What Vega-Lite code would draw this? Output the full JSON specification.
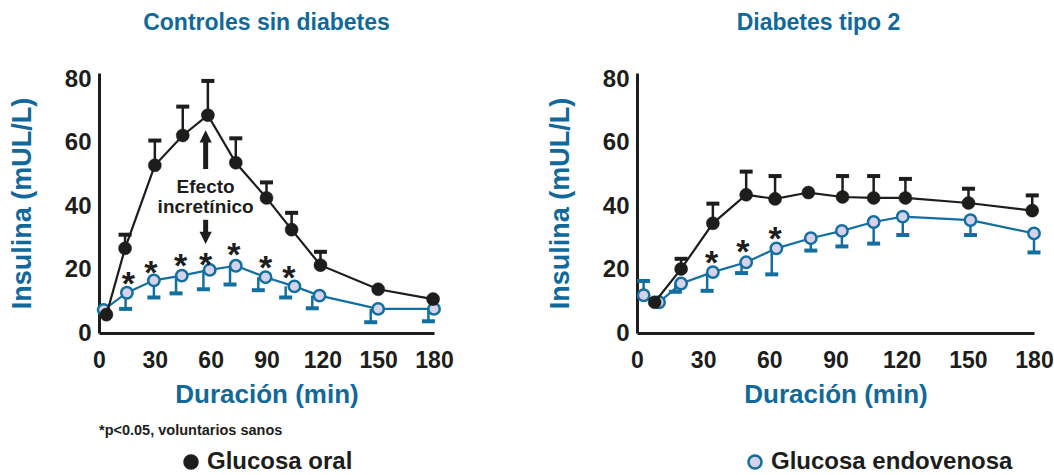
{
  "$schema": "https://vega.github.io/schema/vega-lite/v6.json",
  "background": "white",
  "padding": {"left": 8, "top": 11, "right": 5, "bottom": 5},
  "datasets": {
    "ctrl": [
      {"t": 4, "v": 5.8, "e": null, "te": null, "serie": "Glucosa oral"},
      {"t": 14, "v": 26.7, "e": 31, "te": 14, "serie": "Glucosa oral"},
      {"t": 30, "v": 52.9, "e": 60.7, "te": 30, "serie": "Glucosa oral"},
      {"t": 45, "v": 62.3, "e": 71.4, "te": 45, "serie": "Glucosa oral"},
      {"t": 58.5, "v": 68.7, "e": 79.5, "te": 58.5, "serie": "Glucosa oral"},
      {"t": 73.5, "v": 53.7, "e": 61.4, "te": 73.5, "serie": "Glucosa oral"},
      {"t": 90, "v": 42.6, "e": 47.5, "te": 90, "serie": "Glucosa oral"},
      {"t": 103.5, "v": 32.6, "e": 37.9, "te": 103.5, "serie": "Glucosa oral"},
      {"t": 119, "v": 21.4, "e": 25.6, "te": 119, "serie": "Glucosa oral"},
      {"t": 150, "v": 13.8, "e": null, "te": null, "serie": "Glucosa oral"},
      {"t": 179.5, "v": 10.7, "e": null, "te": null, "serie": "Glucosa oral"},
      {"t": 2.5, "v": 7.3, "e": null, "te": null, "serie": "Glucosa endovenosa"},
      {"t": 15, "v": 12.7, "e": 7.6, "te": 14.3, "serie": "Glucosa endovenosa"},
      {"t": 29.5, "v": 16.6, "e": 11.2, "te": 29.5, "serie": "Glucosa endovenosa"},
      {"t": 44.5, "v": 18.1, "e": 12.5, "te": 41.4, "serie": "Glucosa endovenosa"},
      {"t": 59.5, "v": 19.9, "e": 13.8, "te": 56.1, "serie": "Glucosa endovenosa"},
      {"t": 73.5, "v": 21.2, "e": 15.3, "te": 70.4, "serie": "Glucosa endovenosa"},
      {"t": 89.5, "v": 17.6, "e": 13.5, "te": 85.6, "serie": "Glucosa endovenosa"},
      {"t": 105, "v": 14.7, "e": 11.2, "te": 100.3, "serie": "Glucosa endovenosa"},
      {"t": 118.5, "v": 11.8, "e": 7.8, "te": 114.6, "serie": "Glucosa endovenosa"},
      {"t": 150, "v": 7.6, "e": 3.4, "te": 146, "serie": "Glucosa endovenosa"},
      {"t": 180, "v": 7.6, "e": 3.7, "te": 177, "serie": "Glucosa endovenosa"}
    ],
    "dm2": [
      {"t": 8, "v": 9.7, "e": null, "te": null, "serie": "Glucosa oral"},
      {"t": 20, "v": 20.2, "e": 23.4, "te": 20, "serie": "Glucosa oral"},
      {"t": 34.4, "v": 34.6, "e": 40.8, "te": 34.4, "serie": "Glucosa oral"},
      {"t": 49.5, "v": 43.6, "e": 50.9, "te": 49.5, "serie": "Glucosa oral"},
      {"t": 62.6, "v": 42.3, "e": 49.5, "te": 62.6, "serie": "Glucosa oral"},
      {"t": 77.7, "v": 44.3, "e": null, "te": null, "serie": "Glucosa oral"},
      {"t": 93.2, "v": 42.9, "e": 49.5, "te": 93.2, "serie": "Glucosa oral"},
      {"t": 107.3, "v": 42.6, "e": 49.5, "te": 107.3, "serie": "Glucosa oral"},
      {"t": 121.7, "v": 42.6, "e": 48.6, "te": 121.7, "serie": "Glucosa oral"},
      {"t": 150.3, "v": 41.0, "e": 45.5, "te": 150.3, "serie": "Glucosa oral"},
      {"t": 179.2, "v": 38.6, "e": 43.4, "te": 179.2, "serie": "Glucosa oral"},
      {"t": 3, "v": 11.9, "e": 16.4, "te": 3, "serie": "Glucosa endovenosa"},
      {"t": 10, "v": 9.7, "e": null, "te": null, "serie": "Glucosa endovenosa"},
      {"t": 20, "v": 15.6, "e": 13, "te": 17.4, "serie": "Glucosa endovenosa"},
      {"t": 34.4, "v": 19.2, "e": 13.3, "te": 31.8, "serie": "Glucosa endovenosa"},
      {"t": 49.5, "v": 22.3, "e": 18.9, "te": 47.4, "serie": "Glucosa endovenosa"},
      {"t": 63.2, "v": 26.7, "e": 18.5, "te": 61.1, "serie": "Glucosa endovenosa"},
      {"t": 78.8, "v": 29.9, "e": 26, "te": 78.8, "serie": "Glucosa endovenosa"},
      {"t": 92.9, "v": 32.2, "e": 27.3, "te": 92.9, "serie": "Glucosa endovenosa"},
      {"t": 107.3, "v": 35.0, "e": 28.2, "te": 107.3, "serie": "Glucosa endovenosa"},
      {"t": 120.5, "v": 36.7, "e": 30.9, "te": 120.5, "serie": "Glucosa endovenosa"},
      {"t": 151.2, "v": 35.6, "e": 30.9, "te": 151.2, "serie": "Glucosa endovenosa"},
      {"t": 180, "v": 31.4, "e": 25.4, "te": 180, "serie": "Glucosa endovenosa"}
    ],
    "starsCtrl": [
      {"t": 15.8, "v": 17.6}, {"t": 27.8, "v": 21.2}, {"t": 43.9, "v": 23.3},
      {"t": 57.3, "v": 23.8}, {"t": 72.5, "v": 26.9}, {"t": 89.5, "v": 22.8}, {"t": 102, "v": 19.7}
    ],
    "starsDm2": [
      {"t": 33.8, "v": 24.4}, {"t": 48, "v": 27.7}, {"t": 62.6, "v": 31.7}
    ],
    "annot": [
      {"t": 57.3, "v": 45.9, "label": "Efecto"},
      {"t": 57.3, "v": 39.6, "label": "incretínico"}
    ],
    "shafts": [
      {"t": 57.3, "v": 51.7, "v2": 61},
      {"t": 57.3, "v": 35.7, "v2": 31}
    ],
    "headsUp": [{"t": 57.3, "v": 62}],
    "headsDown": [{"t": 57.3, "v": 30}],
    "note": [{"t": 0, "v": -31, "label": "*p<0.05, voluntarios sanos"}]
  },
  "config": {
    "font": "Liberation Sans",
    "view": {"stroke": null},
    "concat": {"spacing": 92},
    "axis": {
      "grid": false, "ticks": false, "domainColor": "#1d1d1b", "domainWidth": 3,
      "labelFont": "Liberation Sans", "labelFontWeight": "bold", "labelColor": "#1d1d1b",
      "titleFont": "Liberation Sans", "titleFontWeight": "bold", "titleColor": "#10699a"
    },
    "axisX": {"labelFontSize": 23, "labelPadding": 16, "titleFontSize": 26, "titlePadding": 9, "labelFlush": false, "labelOverlap": false},
    "axisY": {"labelFontSize": 24, "labelPadding": 8, "titleFontSize": 27, "titlePadding": 28, "labelOverlap": false},
    "title": {"font": "Liberation Sans", "fontWeight": "bold", "fontSize": 23, "color": "#10699a", "anchor": "middle", "frame": "group", "offset": 32.5},
    "legend": {
      "orient": "none", "legendX": 80, "legendY": 377, "direction": "horizontal",
      "columnPadding": 390, "labelFont": "Liberation Sans", "labelFontWeight": "bold",
      "labelFontSize": 24, "labelColor": "#1d1d1b", "labelLimit": 400, "symbolSize": 170, "symbolStrokeWidth": 2.5,
      "symbolType": "circle", "labelOffset": 4, "title": null
    }
  },
  "hconcat": [
    {
      "width": 335, "height": 260,
      "title": {"text": "Controles sin diabetes"},
      "layer": [
        {
          "data": {"name": "ctrl"},
          "transform": [{"filter": "datum.serie === 'Glucosa endovenosa'"}],
          "mark": {"type": "line", "color": "#136fa0", "strokeWidth": 2.2},
          "encoding": {
            "x": {"field": "t", "type": "quantitative", "scale": {"domain": [0, 180], "nice": false}, "axis": {"values": [0, 30, 60, 90, 120, 150, 180]}, "title": "Duración (min)"},
            "y": {"field": "v", "type": "quantitative", "scale": {"domain": [0, 82], "nice": false}, "axis": {"values": [0, 20, 40, 60, 80]}, "title": "Insulina (mUL/L)"}
          }
        },
        {
          "data": {"name": "ctrl"},
          "transform": [{"filter": "datum.serie === 'Glucosa endovenosa' && datum.e != null"}],
          "mark": {"type": "rule", "color": "#136fa0", "strokeWidth": 2.5},
          "encoding": {
            "x": {"field": "te", "type": "quantitative", "title": "Duración (min)"},
            "y": {"field": "v", "type": "quantitative", "title": "Insulina (mUL/L)"},
            "y2": {"field": "e"}
          }
        },
        {
          "data": {"name": "ctrl"},
          "transform": [{"filter": "datum.serie === 'Glucosa endovenosa' && datum.e != null"}],
          "mark": {"type": "tick", "orient": "horizontal", "color": "#136fa0", "size": 13, "thickness": 4, "opacity": 1},
          "encoding": {
            "x": {"field": "te", "type": "quantitative", "title": "Duración (min)"},
            "y": {"field": "e", "type": "quantitative", "title": "Insulina (mUL/L)"}
          }
        },
        {
          "data": {"name": "ctrl"},
          "transform": [{"filter": "datum.serie === 'Glucosa endovenosa'"}],
          "mark": {"type": "point", "shape": "circle", "filled": true, "size": 130, "strokeWidth": 2.5, "opacity": 1},
          "encoding": {
            "x": {"field": "t", "type": "quantitative", "title": "Duración (min)"},
            "y": {"field": "v", "type": "quantitative", "title": "Insulina (mUL/L)"},
            "fill": {"field": "serie", "type": "nominal", "scale": {"domain": ["Glucosa oral", "Glucosa endovenosa"], "range": ["#1d1d1b", "#d5d2ec"]}},
            "stroke": {"field": "serie", "type": "nominal", "scale": {"domain": ["Glucosa oral", "Glucosa endovenosa"], "range": ["#1d1d1b", "#136fa0"]}}
          }
        },
        {
          "data": {"name": "ctrl"},
          "transform": [{"filter": "datum.serie === 'Glucosa oral'"}],
          "mark": {"type": "line", "color": "#1d1d1b", "strokeWidth": 2.2},
          "encoding": {
            "x": {"field": "t", "type": "quantitative", "title": "Duración (min)"},
            "y": {"field": "v", "type": "quantitative", "title": "Insulina (mUL/L)"}
          }
        },
        {
          "data": {"name": "ctrl"},
          "transform": [{"filter": "datum.serie === 'Glucosa oral' && datum.e != null"}],
          "mark": {"type": "rule", "color": "#1d1d1b", "strokeWidth": 2.5},
          "encoding": {
            "x": {"field": "te", "type": "quantitative", "title": "Duración (min)"},
            "y": {"field": "v", "type": "quantitative", "title": "Insulina (mUL/L)"},
            "y2": {"field": "e"}
          }
        },
        {
          "data": {"name": "ctrl"},
          "transform": [{"filter": "datum.serie === 'Glucosa oral' && datum.e != null"}],
          "mark": {"type": "tick", "orient": "horizontal", "color": "#1d1d1b", "size": 13, "thickness": 4, "opacity": 1},
          "encoding": {
            "x": {"field": "te", "type": "quantitative", "title": "Duración (min)"},
            "y": {"field": "e", "type": "quantitative", "title": "Insulina (mUL/L)"}
          }
        },
        {
          "data": {"name": "ctrl"},
          "transform": [{"filter": "datum.serie === 'Glucosa oral'"}],
          "mark": {"type": "point", "shape": "circle", "filled": true, "size": 170, "strokeWidth": 0.5, "opacity": 1},
          "encoding": {
            "x": {"field": "t", "type": "quantitative", "title": "Duración (min)"},
            "y": {"field": "v", "type": "quantitative", "title": "Insulina (mUL/L)"},
            "fill": {"field": "serie", "type": "nominal", "scale": {"domain": ["Glucosa oral", "Glucosa endovenosa"], "range": ["#1d1d1b", "#d5d2ec"]}},
            "stroke": {"field": "serie", "type": "nominal", "scale": {"domain": ["Glucosa oral", "Glucosa endovenosa"], "range": ["#1d1d1b", "#136fa0"]}}
          }
        },
        {
          "data": {"name": "starsCtrl"},
          "mark": {"type": "text", "text": "*", "fontSize": 34, "fontWeight": "bold", "color": "#1d1d1b", "baseline": "alphabetic", "dy": 18},
          "encoding": {
            "x": {"field": "t", "type": "quantitative", "title": "Duración (min)"},
            "y": {"field": "v", "type": "quantitative", "title": "Insulina (mUL/L)"}
          }
        },
        {
          "data": {"name": "annot"},
          "mark": {"type": "text", "fontSize": 19, "fontWeight": "bold", "color": "#1d1d1b", "baseline": "middle"},
          "encoding": {
            "x": {"field": "t", "type": "quantitative", "title": "Duración (min)"},
            "y": {"field": "v", "type": "quantitative", "title": "Insulina (mUL/L)"},
            "text": {"field": "label"}
          }
        },
        {
          "data": {"name": "shafts"},
          "mark": {"type": "rule", "color": "#1d1d1b", "strokeWidth": 5},
          "encoding": {
            "x": {"field": "t", "type": "quantitative", "title": "Duración (min)"},
            "y": {"field": "v", "type": "quantitative", "title": "Insulina (mUL/L)"},
            "y2": {"field": "v2"}
          }
        },
        {
          "data": {"name": "headsUp"},
          "mark": {"type": "point", "shape": "M-1,1L1,1L0,-1Z", "filled": true, "size": 150, "color": "#1d1d1b", "opacity": 1},
          "encoding": {
            "x": {"field": "t", "type": "quantitative", "title": "Duración (min)"},
            "y": {"field": "v", "type": "quantitative", "title": "Insulina (mUL/L)"}
          }
        },
        {
          "data": {"name": "headsDown"},
          "mark": {"type": "point", "shape": "M-1,-1L1,-1L0,1Z", "filled": true, "size": 150, "color": "#1d1d1b", "opacity": 1},
          "encoding": {
            "x": {"field": "t", "type": "quantitative", "title": "Duración (min)"},
            "y": {"field": "v", "type": "quantitative", "title": "Insulina (mUL/L)"}
          }
        },
        {
          "data": {"name": "note"},
          "mark": {"type": "text", "fontSize": 14.5, "fontWeight": "bold", "color": "#1d1d1b", "align": "left", "baseline": "middle", "font": "Liberation Sans"},
          "encoding": {
            "x": {"field": "t", "type": "quantitative", "title": "Duración (min)"},
            "y": {"field": "v", "type": "quantitative", "title": "Insulina (mUL/L)"},
            "text": {"field": "label"}
          }
        }
      ]
    },
    {
      "width": 397, "height": 260,
      "title": {"text": "Diabetes tipo 2", "dx": -17},
      "layer": [
        {
          "data": {"name": "dm2"},
          "transform": [{"filter": "datum.serie === 'Glucosa endovenosa'"}],
          "mark": {"type": "line", "color": "#136fa0", "strokeWidth": 2.2},
          "encoding": {
            "x": {"field": "t", "type": "quantitative", "scale": {"domain": [0, 180], "nice": false}, "axis": {"values": [0, 30, 60, 90, 120, 150, 180]}, "title": "Duración (min)"},
            "y": {"field": "v", "type": "quantitative", "scale": {"domain": [0, 82], "nice": false}, "axis": {"values": [0, 20, 40, 60, 80]}, "title": "Insulina (mUL/L)"}
          }
        },
        {
          "data": {"name": "dm2"},
          "transform": [{"filter": "datum.serie === 'Glucosa endovenosa' && datum.e != null"}],
          "mark": {"type": "rule", "color": "#136fa0", "strokeWidth": 2.5},
          "encoding": {
            "x": {"field": "te", "type": "quantitative", "title": "Duración (min)"},
            "y": {"field": "v", "type": "quantitative", "title": "Insulina (mUL/L)"},
            "y2": {"field": "e"}
          }
        },
        {
          "data": {"name": "dm2"},
          "transform": [{"filter": "datum.serie === 'Glucosa endovenosa' && datum.e != null"}],
          "mark": {"type": "tick", "orient": "horizontal", "color": "#136fa0", "size": 13, "thickness": 4, "opacity": 1},
          "encoding": {
            "x": {"field": "te", "type": "quantitative", "title": "Duración (min)"},
            "y": {"field": "e", "type": "quantitative", "title": "Insulina (mUL/L)"}
          }
        },
        {
          "data": {"name": "dm2"},
          "transform": [{"filter": "datum.serie === 'Glucosa endovenosa'"}],
          "mark": {"type": "point", "shape": "circle", "filled": true, "size": 130, "strokeWidth": 2.5, "opacity": 1, "fill": "#d5d2ec", "stroke": "#136fa0"},
          "encoding": {
            "x": {"field": "t", "type": "quantitative", "title": "Duración (min)"},
            "y": {"field": "v", "type": "quantitative", "title": "Insulina (mUL/L)"}
          }
        },
        {
          "data": {"name": "dm2"},
          "transform": [{"filter": "datum.serie === 'Glucosa oral'"}],
          "mark": {"type": "line", "color": "#1d1d1b", "strokeWidth": 2.2},
          "encoding": {
            "x": {"field": "t", "type": "quantitative", "title": "Duración (min)"},
            "y": {"field": "v", "type": "quantitative", "title": "Insulina (mUL/L)"}
          }
        },
        {
          "data": {"name": "dm2"},
          "transform": [{"filter": "datum.serie === 'Glucosa oral' && datum.e != null"}],
          "mark": {"type": "rule", "color": "#1d1d1b", "strokeWidth": 2.5},
          "encoding": {
            "x": {"field": "te", "type": "quantitative", "title": "Duración (min)"},
            "y": {"field": "v", "type": "quantitative", "title": "Insulina (mUL/L)"},
            "y2": {"field": "e"}
          }
        },
        {
          "data": {"name": "dm2"},
          "transform": [{"filter": "datum.serie === 'Glucosa oral' && datum.e != null"}],
          "mark": {"type": "tick", "orient": "horizontal", "color": "#1d1d1b", "size": 13, "thickness": 4, "opacity": 1},
          "encoding": {
            "x": {"field": "te", "type": "quantitative", "title": "Duración (min)"},
            "y": {"field": "e", "type": "quantitative", "title": "Insulina (mUL/L)"}
          }
        },
        {
          "data": {"name": "dm2"},
          "transform": [{"filter": "datum.serie === 'Glucosa oral'"}],
          "mark": {"type": "point", "shape": "circle", "filled": true, "size": 170, "opacity": 1, "fill": "#1d1d1b", "stroke": "#1d1d1b", "strokeWidth": 0.5},
          "encoding": {
            "x": {"field": "t", "type": "quantitative", "title": "Duración (min)"},
            "y": {"field": "v", "type": "quantitative", "title": "Insulina (mUL/L)"}
          }
        },
        {
          "data": {"name": "starsDm2"},
          "mark": {"type": "text", "text": "*", "fontSize": 34, "fontWeight": "bold", "color": "#1d1d1b", "baseline": "alphabetic", "dy": 18},
          "encoding": {
            "x": {"field": "t", "type": "quantitative", "title": "Duración (min)"},
            "y": {"field": "v", "type": "quantitative", "title": "Insulina (mUL/L)"}
          }
        }
      ]
    }
  ]
}
